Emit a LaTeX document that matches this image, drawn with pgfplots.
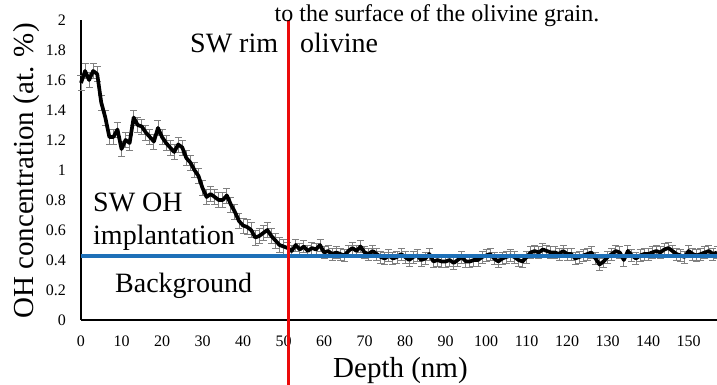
\documentclass[border=0pt]{standalone}
\usepackage{fontspec}
\setmainfont{Liberation Serif}
\usepackage{pgfplots}
\pgfplotsset{compat=1.18}
\usepackage{pgfplotstable}
\definecolor{bgblue}{RGB}{30,112,184}
\definecolor{errgray}{RGB}{128,128,128}
\definecolor{rimred}{RGB}{235,10,10}
\pgfplotstableread{
x y e
0 1.58 0.05
1 1.66 0.05
2 1.60 0.05
3 1.66 0.05
4 1.64 0.05
5 1.45 0.05
6 1.35 0.05
7 1.22 0.05
8 1.22 0.05
9 1.27 0.05
10 1.14 0.05
11 1.20 0.05
12 1.18 0.05
13 1.35 0.05
14 1.30 0.05
15 1.29 0.05
16 1.25 0.05
17 1.22 0.05
18 1.19 0.05
19 1.28 0.05
20 1.22 0.05
21 1.18 0.05
22 1.15 0.05
23 1.12 0.05
24 1.17 0.05
25 1.15 0.05
26 1.08 0.05
27 1.05 0.05
28 1.00 0.05
29 0.96 0.05
30 0.88 0.05
31 0.82 0.05
32 0.84 0.05
33 0.82 0.05
34 0.80 0.05
35 0.80 0.05
36 0.83 0.05
37 0.77 0.05
38 0.72 0.05
39 0.66 0.05
40 0.63 0.05
41 0.62 0.05
42 0.60 0.05
43 0.55 0.05
44 0.56 0.05
45 0.58 0.05
46 0.60 0.05
47 0.56 0.05
48 0.53 0.05
49 0.50 0.05
50 0.49 0.05
51 0.48 0.04
52 0.46 0.04
53 0.50 0.04
54 0.47 0.04
55 0.49 0.04
56 0.46 0.04
57 0.48 0.04
58 0.47 0.04
59 0.50 0.04
60 0.45 0.04
61 0.46 0.04
62 0.44 0.04
63 0.45 0.04
64 0.44 0.04
65 0.43 0.04
66 0.46 0.04
67 0.48 0.04
68 0.46 0.04
69 0.49 0.04
70 0.45 0.04
71 0.44 0.04
72 0.46 0.04
73 0.44 0.04
74 0.42 0.04
75 0.41 0.04
76 0.43 0.04
77 0.41 0.04
78 0.42 0.04
79 0.44 0.04
80 0.42 0.04
81 0.40 0.04
82 0.42 0.04
83 0.43 0.04
84 0.40 0.04
85 0.41 0.04
86 0.44 0.04
87 0.39 0.04
88 0.40 0.04
89 0.39 0.04
90 0.39 0.04
91 0.40 0.04
92 0.38 0.04
93 0.40 0.04
94 0.42 0.04
95 0.39 0.04
96 0.39 0.04
97 0.40 0.04
98 0.40 0.04
99 0.42 0.04
100 0.43 0.04
101 0.44 0.04
102 0.41 0.04
103 0.39 0.04
104 0.41 0.04
105 0.42 0.04
106 0.43 0.04
107 0.42 0.04
108 0.40 0.04
109 0.39 0.04
110 0.42 0.04
111 0.45 0.04
112 0.46 0.04
113 0.45 0.04
114 0.47 0.04
115 0.46 0.04
116 0.45 0.04
117 0.45 0.04
118 0.44 0.04
119 0.46 0.04
120 0.44 0.04
121 0.44 0.04
122 0.41 0.04
123 0.42 0.04
124 0.43 0.04
125 0.44 0.04
126 0.45 0.04
127 0.41 0.04
128 0.37 0.04
129 0.39 0.04
130 0.42 0.04
131 0.44 0.04
132 0.46 0.04
133 0.45 0.04
134 0.40 0.04
135 0.46 0.04
136 0.43 0.04
137 0.41 0.04
138 0.43 0.04
139 0.44 0.04
140 0.44 0.04
141 0.45 0.04
142 0.46 0.04
143 0.45 0.04
144 0.47 0.04
145 0.48 0.04
146 0.46 0.04
147 0.44 0.04
148 0.43 0.04
149 0.42 0.04
150 0.46 0.04
151 0.44 0.04
152 0.43 0.04
153 0.44 0.04
154 0.45 0.04
155 0.46 0.04
156 0.44 0.04
157 0.45 0.04
}\ohdata
\begin{document}
\begin{tikzpicture}[x=1pt,y=1pt]
\path[use as bounding box] (0,0) rectangle (717,385);
\begin{axis}[
  at={(81pt,65pt)}, anchor=south west,
  scale only axis, width=636pt, height=300pt,
  xmin=0, xmax=157, ymin=0, ymax=2,
  clip=false,
  axis x line=bottom, axis y line=left,
  axis line style={-, line width=2.6pt, black},
  major tick length=0pt,
  xtick={0,10,...,150}, ytick={0,0.2,...,2.01},
  /pgf/number format/assume math mode=true,
  yticklabel style={font=\fontsize{16}{16}\selectfont, inner sep=0pt, anchor=east, xshift=-15pt,
    /pgf/number format/.cd, fixed, precision=1},
  xticklabel style={font=\fontsize{16}{16}\selectfont, inner sep=0pt, anchor=north, yshift=-16pt},
]
\addplot[draw=none, mark=none, forget plot,
  error bars/.cd, y dir=both, y explicit,
  error bar style={errgray, line width=0.9pt},
  error mark options={errgray, mark size=3.5pt, line width=0.9pt, rotate=90}]
  table[x=x, y=y, y error=e] {\ohdata};
\addplot[black, line width=3.7pt, line join=round, mark=none] table[x=x, y=y] {\ohdata};
\addplot[bgblue, line width=3.5pt, mark=none] coordinates {(0,0.425) (157,0.425)};
\addplot[rimred, line width=3pt, mark=none] coordinates {(51.1,-0.45) (51.1,2)};
\end{axis}
\node[anchor=base, font=\fontsize{24}{24}\selectfont, inner sep=0pt] at (437,363) {to the surface of the olivine grain.};
\node[anchor=base west, font=\fontsize{28}{28}\selectfont, inner sep=0pt] at (190,332) {SW rim};
\node[anchor=base west, font=\fontsize{28}{28}\selectfont, inner sep=0pt] at (300,332) {olivine};
\node[anchor=base west, font=\fontsize{28}{28}\selectfont, inner sep=0pt] at (93,173) {SW OH};
\node[anchor=base west, font=\fontsize{28}{28}\selectfont, inner sep=0pt] at (93,140) {implantation};
\node[anchor=base west, font=\fontsize{28}{28}\selectfont, inner sep=0pt] at (115,92) {Background};
\node[anchor=base west, font=\fontsize{29}{29}\selectfont, inner sep=0pt] at (333,7.5) {Depth (nm)};
\node[anchor=base, rotate=90, font=\fontsize{29}{29}\selectfont, inner sep=0pt] at (33,214) {OH concentration (at. \%)};
\end{tikzpicture}
\end{document}
